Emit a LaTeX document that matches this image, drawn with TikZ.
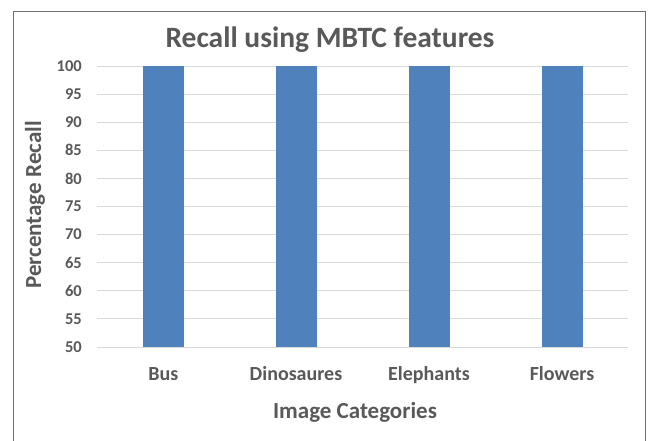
\documentclass[tikz,border=0pt]{standalone}
\usepackage{fontspec}
\setmainfont{Carlito}
\definecolor{barblue}{HTML}{4F81BD}
\definecolor{txtgray}{HTML}{595959}
\definecolor{gridgray}{HTML}{D9D9D9}
\definecolor{framegray}{HTML}{707070}
\begin{document}
\begin{tikzpicture}[x=1pt,y=-1pt,
  gridline/.style={draw=gridgray,line width=0.9pt},
  bar/.style={fill=barblue,draw=none},
  ticklabel/.style={anchor=east,text=txtgray,font=\bfseries\fontsize{16.5}{19}\selectfont,inner sep=0pt},
  catlabel/.style={anchor=base,text=txtgray,font=\bfseries\fontsize{20}{24}\selectfont,inner sep=0pt},
  axtitle/.style={text=txtgray,font=\bfseries\fontsize{23}{27}\selectfont,inner sep=0pt}]
\useasboundingbox (0,0) rectangle (648,441);
\fill[white] (0,0) rectangle (648,441);
\draw[framegray,line width=1pt] (13,441) -- (13,12) -- (645,12) -- (645,441);
% grid and ticks
\foreach \v [count=\i from 0] in {50,55,...,100} {
  \pgfmathsetmacro{\yy}{347-\i*28.1}
  \draw[gridline] (97,\yy) -- (628,\yy);
  \node[ticklabel] (t\v) at (82,\yy) {\v};
}
% bars
\foreach \c/\n in {163.4/bus,296/dino,429/elep,562/flow} {
  \fill[bar] (\c-20.5,66) rectangle (\c+20.5,347);
}
\node[catlabel] (lbus) at (163.4,380.5) {Bus};
\node[catlabel] (ldino) at (296,380.5) {Dinosaures};
\node[catlabel] (lelep) at (429,380.5) {Elephants};
\node[catlabel] (lflow) at (562,380.5) {Flowers};
\node[axtitle,anchor=base] (xt) at (355,418.5) {Image Categories};
\node[axtitle,rotate=90] (yt) at (35,205) {Percentage Recall};
\node[text=txtgray,font=\bfseries\fontsize{29.5}{34}\selectfont,inner sep=0pt] (title) at (330,40) {Recall using MBTC features};
\end{tikzpicture}
\end{document}
